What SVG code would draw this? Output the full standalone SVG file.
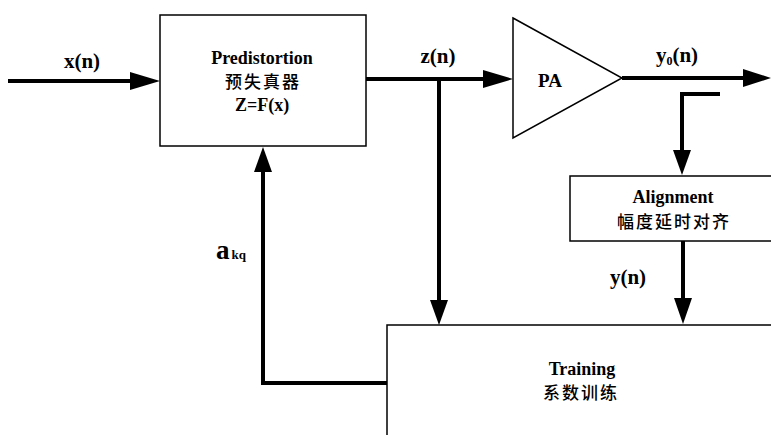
<svg xmlns="http://www.w3.org/2000/svg" width="771" height="435" viewBox="0 0 771 435">
<defs>
<style>
.box{fill:#fff;stroke:#000;stroke-width:1.5}
.ln{fill:none;stroke:#000;stroke-width:4}
.t{font-family:"Liberation Serif","Noto Sans CJK SC",serif;font-weight:bold;fill:#000;text-anchor:middle;font-size:18px}
.cn{font-family:"Noto Sans CJK SC",sans-serif;font-weight:500;fill:#000;text-anchor:middle;font-size:17px;letter-spacing:2px}
.lb{font-family:"Liberation Serif",serif;font-weight:bold;fill:#000;text-anchor:middle;font-size:21px}
</style>
</defs>
<rect width="771" height="435" fill="#fff"/>
<g id="connectors">
<path class="ln" d="M8,81 L130,81"/>
<path d="M130,72 L160,81 L130,90 Z"/>
<path class="ln" d="M366,79 L483,79"/>
<path d="M483,70 L513,79 L483,88 Z"/>
<path class="ln" d="M439,79 L439,300"/>
<path d="M430,300 L439,325 L448,300 Z"/>
<path class="ln" d="M622,78 L743,78"/>
<path d="M743,69 L771,78 L743,87 Z"/>
<path class="ln" d="M720,94 L682,94 L682,150"/>
<path d="M673,150 L682,175 L691,150 Z"/>
<path class="ln" d="M683,241 L683,298"/>
<path d="M674,298 L683,324 L692,298 Z"/>
<path class="ln" d="M387,383 L263,383 L263,172"/>
<path d="M254,172 L263,147 L272,172 Z"/>
</g>
<g id="predistortion">
<rect class="box" x="160" y="15" width="206" height="131"/>
<text class="t" x="262" y="64">Predistortion</text>
<text class="cn" x="263" y="88">预失真器</text>
<text class="t" x="262" y="111">Z=F(x)</text>
</g>
<g id="pa">
<path class="box" d="M513,18 L622,78 L513,138 Z"/>
<text class="t" x="550" y="87" style="font-size:19px">PA</text>
</g>
<g id="alignment">
<rect class="box" x="570" y="176" width="210" height="65"/>
<text class="t" x="673" y="203">Alignment</text>
<text class="cn" x="674" y="228">幅度延时对齐</text>
</g>
<g id="training">
<rect class="box" x="387" y="325" width="400" height="120"/>
<text class="t" x="582" y="375">Training</text>
<text class="cn" x="581" y="399">系数训练</text>
</g>
<g id="labels">
<text class="lb" x="82" y="68">x(n)</text>
<text class="lb" x="438" y="63">z(n)</text>
<text class="lb" x="677" y="62">y<tspan style="font-size:12px" dy="3">0</tspan><tspan dy="-3">(n)</tspan></text>
<text class="lb" x="628" y="284">y(n)</text>
<text class="lb" x="216" y="259" style="font-size:27px;text-anchor:start">a<tspan style="font-size:13px" dx="2">kq</tspan></text>
</g>
</svg>
